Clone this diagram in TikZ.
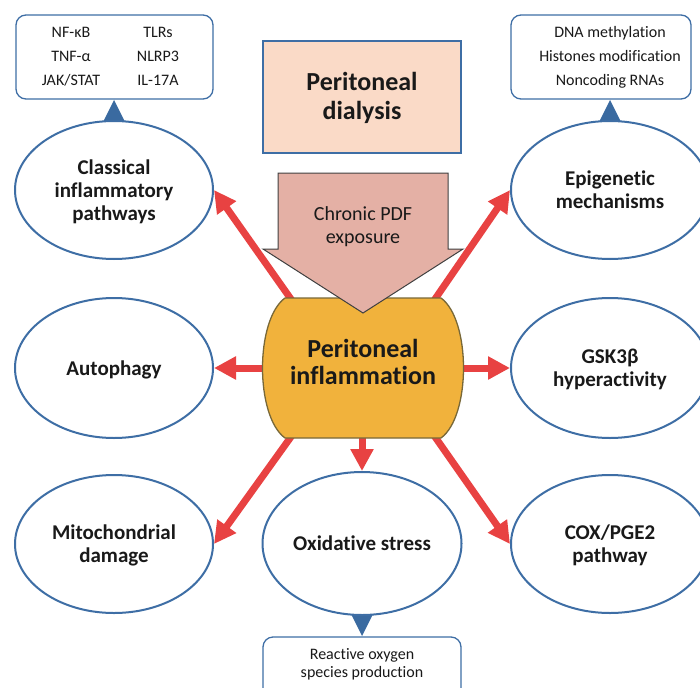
\documentclass[tikz,border=0pt]{standalone}
\usepackage{fontspec}
\setmainfont{Carlito}[Ligatures={NoCommon}]
\usepackage{array}
\usetikzlibrary{shapes.geometric,arrows.meta,calc}
\definecolor{eblue}{RGB}{62,110,165}
\definecolor{tblue}{RGB}{58,106,160}
\definecolor{ared}{RGB}{232,66,66}
\definecolor{orng}{RGB}{241,178,60}
\definecolor{orngb}{RGB}{120,104,56}
\definecolor{peach}{RGB}{250,218,199}
\definecolor{pdfc}{RGB}{228,176,165}
\definecolor{txt}{RGB}{25,25,25}
\newcommand\lowtxt[1]{\raisebox{-2.5pt}[\height][\depth]{\begin{tabular}{@{}c@{}}#1\end{tabular}}}
\begin{document}
\begin{tikzpicture}[x=1pt,y=-1pt,
  oval/.style={ellipse,draw=eblue,line width=2pt,fill=white,minimum width=198pt,minimum height=138pt,inner sep=0pt,align=center,text=txt,font=\fontsize{21}{23}\selectfont\bfseries},
  infobox/.style={draw=eblue,line width=1.3pt,rounded corners=10pt,fill=white,inner sep=0pt},
  smalltxt/.style={text=txt,align=center,font=\fontsize{16}{24}\selectfont},
  redarrow/.style={draw=ared,line width=7pt,-{Triangle[length=22pt,width=22pt]}},
  tri/.style={fill=tblue,draw=none}
]
\useasboundingbox (0,0) rectangle (700,687);
\clip (0,0) rectangle (700,687);

% info boxes
\node[infobox,minimum width=197pt,minimum height=84pt] (tlb) at (114.5,57) {};
\node[smalltxt] (tlt) at (114.5,57) {\begin{tabular}{@{}wc{75pt}wc{75pt}@{}}NF-κB & TLRs\\ TNF-α & NLRP3\\ JAK/STAT & IL-17A\end{tabular}};
\node[infobox,minimum width=180pt,minimum height=84pt] (trb) at (601,57) {};
\node[smalltxt] (trt) at (610,57) {DNA methylation\\Histones modification\\Noncoding RNAs};
\node[infobox,minimum width=198pt,minimum height=80pt] (rosb) at (362,677) {};
\node[smalltxt,font=\fontsize{16}{18}\selectfont] (rost) at (362,664.5) {Reactive oxygen\\species production};

% triangles
\fill[tri] (114,100) -- (126,124) -- (102,124) -- cycle;
\fill[tri] (610,100) -- (622,124) -- (598,124) -- cycle;
\fill[tri] (362,636) -- (350,612) -- (374,612) -- cycle;

% ellipses
\node[oval] (cl) at (114,190) {\lowtxt{Classical\\inflammatory\\pathways}};
\node[oval] (ep) at (610,190) {\lowtxt{Epigenetic\\mechanisms}};
\node[oval,minimum height=140pt] (au) at (114,368) {\lowtxt{Autophagy}};
\node[oval,minimum height=140pt] (gs) at (610,368) {\lowtxt{GSK3β\\hyperactivity}};
\node[oval] (mi) at (114,544) {\lowtxt{Mitochondrial\\damage}};
\node[oval] (co) at (610,544) {\lowtxt{COX/PGE2\\pathway}};
\node[oval,minimum width=199pt,minimum height=143pt] (ox) at (362,543.5) {Oxidative stress};

% dialysis box
\node[draw=eblue,line width=1.3pt,fill=peach,minimum width=198pt,minimum height=112pt,inner sep=0pt,align=center,text=txt,font=\fontsize{26}{29}\selectfont\bfseries] (pd) at (362,97) {\raisebox{-2pt}[\height][\depth]{\begin{tabular}{@{}c@{}}Peritoneal\\dialysis\end{tabular}}};

% red arrows
\coordinate (s1) at (293,302);
\coordinate (s2) at (433,302);
\coordinate (s3) at (268,368);
\coordinate (s4) at (456,368);
\coordinate (s5) at (293,434);
\coordinate (s6) at (433,434);
\coordinate (s7) at (362,432);
\draw[redarrow] (s1) -- (cl.east);
\draw[redarrow] (s2) -- (ep.west);
\draw[redarrow] (s3) -- (au.east);
\draw[redarrow] (s4) -- (gs.west);
\draw[redarrow] (s5) -- (mi.east);
\draw[redarrow] (s6) -- (co.west);
\draw[redarrow] (s7) -- (ox.north);

% central barrel
\path[fill=orng,draw=orngb,line width=1.3pt]
  (285,298) -- (441,298) .. controls (471,320) and (471,416) .. (441,438)
  -- (285,438) .. controls (255,416) and (255,320) .. (285,298) -- cycle;

% PDF block arrow
\path[fill=pdfc,draw=black!75,line width=1pt]
  (278,173) -- (448,173) -- (448,249) -- (463,249) -- (363,313) -- (263,249) -- (278,249) -- cycle;
\node[text=txt,align=center,font=\fontsize{20}{23}\selectfont] (pdf) at (363,227) {Chronic PDF\\exposure};

\node[text=txt,align=center,font=\fontsize{26}{27.5}\selectfont\bfseries] (cen) at (363,362) {Peritoneal\\inflammation};
\end{tikzpicture}
\end{document}
